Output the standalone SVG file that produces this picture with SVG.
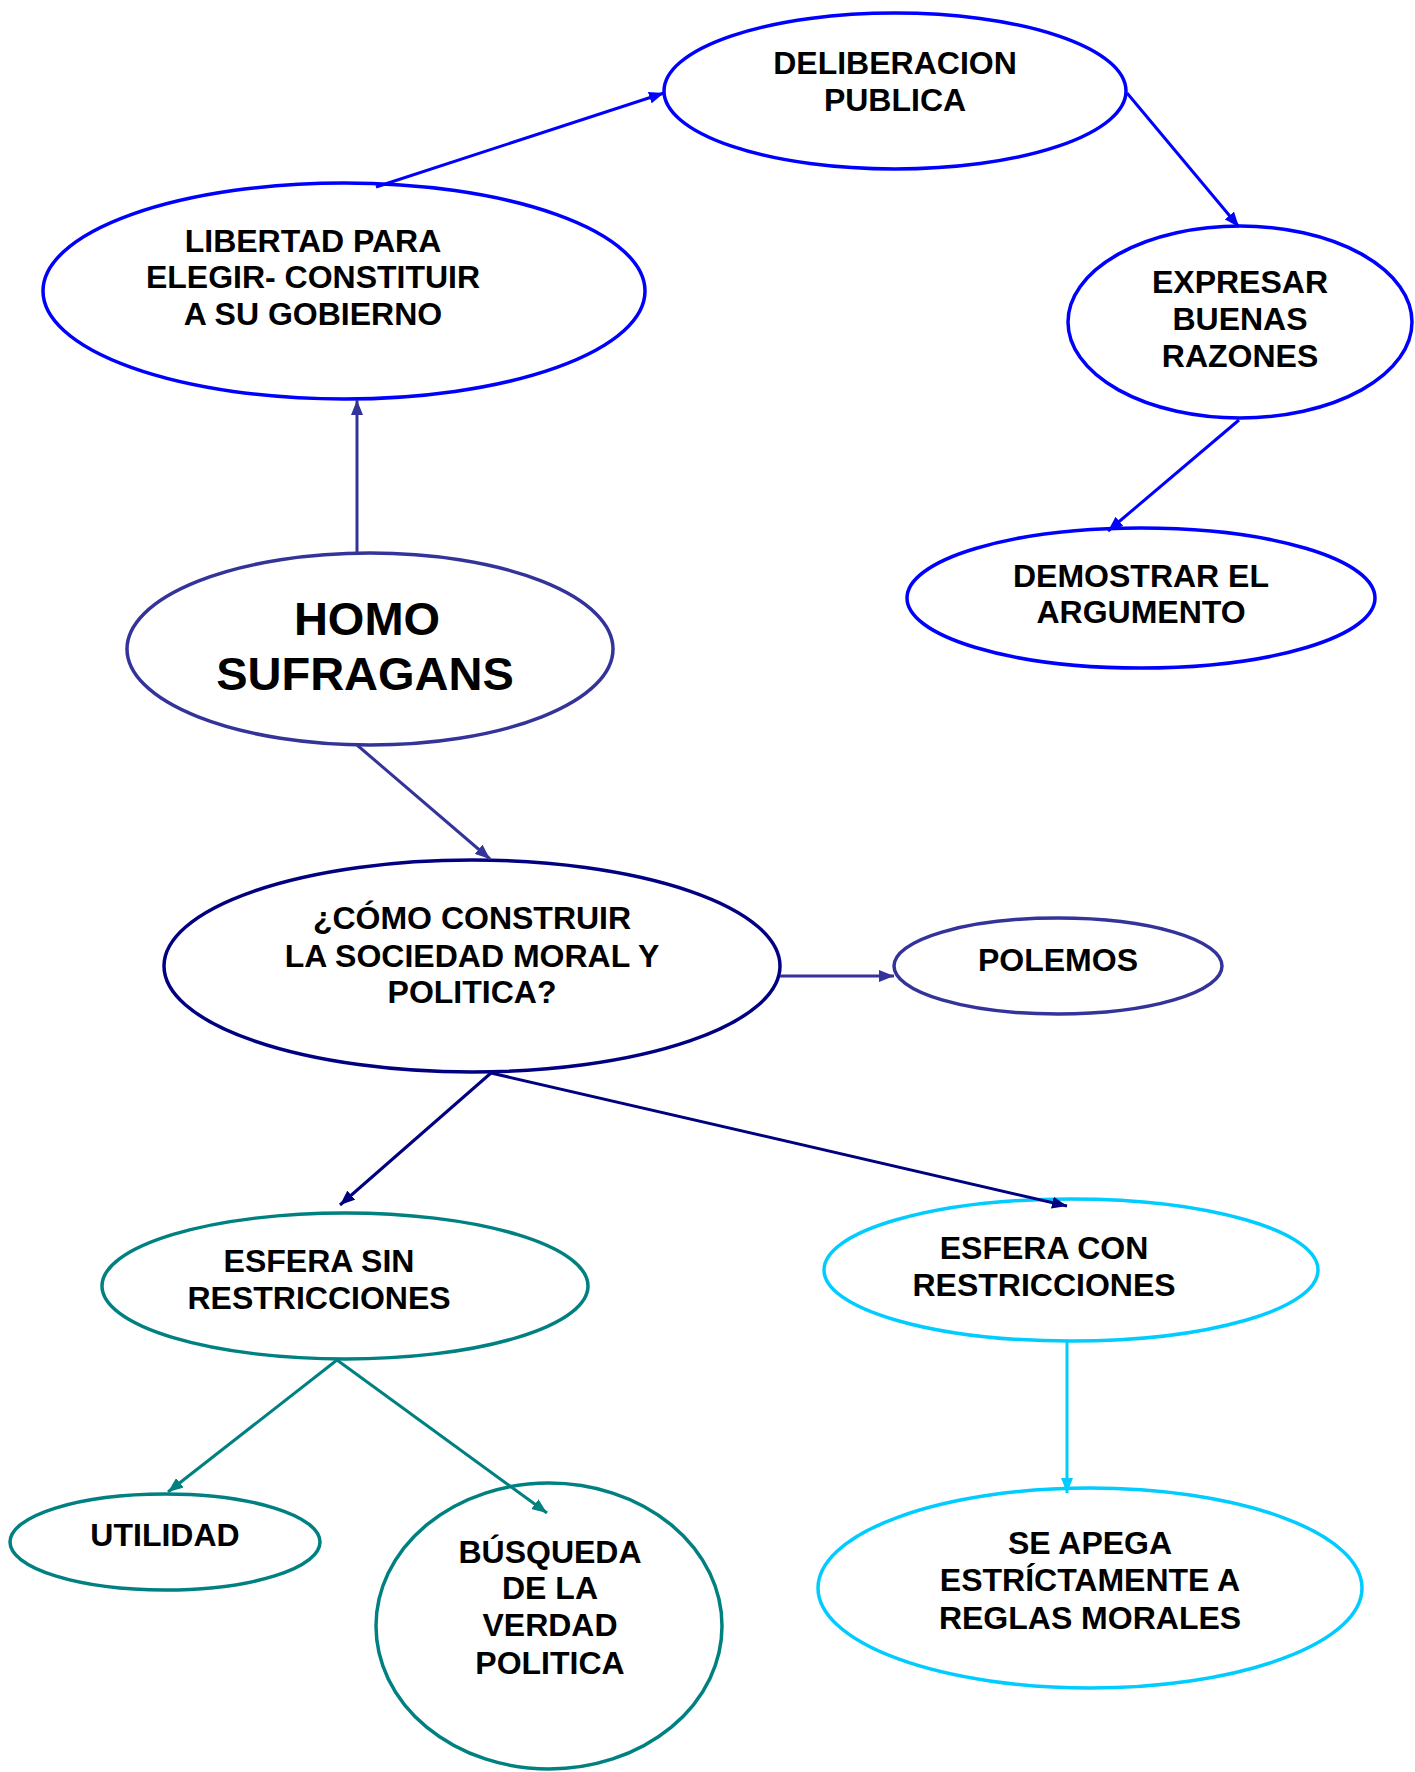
<svg xmlns="http://www.w3.org/2000/svg" width="1415" height="1772" viewBox="0 0 1415 1772">
<style>
.n{fill:#fff;stroke-width:3.5}
.t{font-family:"Liberation Sans",Arial,sans-serif;font-weight:bold;font-size:32px;fill:#000;text-anchor:middle}
.big{font-size:47px}
.c{fill:none;stroke-width:3}
.blue{stroke:#0000FF}
.slate{stroke:#333399}
.navy{stroke:#000080}
.teal{stroke:#008080}
.cyan{stroke:#00CCFF}
</style>
<defs>
<marker id="aBlue" markerUnits="userSpaceOnUse" markerWidth="16" markerHeight="12" refX="15" refY="6" orient="auto"><path d="M0,0 L15,6 L0,12 z" fill="#0000FF"/></marker>
<marker id="aSlate" markerUnits="userSpaceOnUse" markerWidth="16" markerHeight="12" refX="15" refY="6" orient="auto"><path d="M0,0 L15,6 L0,12 z" fill="#333399"/></marker>
<marker id="aNavy" markerUnits="userSpaceOnUse" markerWidth="16" markerHeight="12" refX="15" refY="6" orient="auto"><path d="M0,0 L15,6 L0,12 z" fill="#000080"/></marker>
<marker id="aTeal" markerUnits="userSpaceOnUse" markerWidth="16" markerHeight="12" refX="15" refY="6" orient="auto"><path d="M0,0 L15,6 L0,12 z" fill="#008080"/></marker>
<marker id="aCyan" markerUnits="userSpaceOnUse" markerWidth="16" markerHeight="12" refX="15" refY="6" orient="auto"><path d="M0,0 L15,6 L0,12 z" fill="#00CCFF"/></marker>
</defs>
<rect width="1415" height="1772" fill="#fff"/>

<g id="nodes">
<g id="deliberacion">
<ellipse class="n blue" cx="895" cy="91" rx="231" ry="78"/>
<text class="t" x="895" y="74">DELIBERACION</text>
<text class="t" x="895" y="111">PUBLICA</text>
</g>
<g id="libertad">
<ellipse class="n blue" cx="344" cy="291" rx="301" ry="108"/>
<text class="t" x="313" y="252">LIBERTAD PARA</text>
<text class="t" x="313" y="288">ELEGIR- CONSTITUIR</text>
<text class="t" x="313" y="325">A SU GOBIERNO</text>
</g>
<g id="expresar">
<ellipse class="n blue" cx="1240" cy="322" rx="172" ry="96"/>
<text class="t" x="1240" y="293">EXPRESAR</text>
<text class="t" x="1240" y="330">BUENAS</text>
<text class="t" x="1240" y="367">RAZONES</text>
</g>
<g id="demostrar">
<ellipse class="n blue" cx="1141" cy="598" rx="234" ry="70"/>
<text class="t" x="1141" y="587">DEMOSTRAR EL</text>
<text class="t" x="1141" y="623">ARGUMENTO</text>
</g>
<g id="homo">
<ellipse class="n slate" cx="370" cy="649" rx="243" ry="96"/>
<text class="t big" x="367" y="635">HOMO</text>
<text class="t big" x="365" y="690">SUFRAGANS</text>
</g>
<g id="como">
<ellipse class="n navy" cx="472" cy="966" rx="308" ry="106"/>
<text class="t" x="472" y="929">¿CÓMO CONSTRUIR</text>
<text class="t" x="472" y="967">LA SOCIEDAD MORAL Y</text>
<text class="t" x="472" y="1003">POLITICA?</text>
</g>
<g id="polemos">
<ellipse class="n slate" cx="1058" cy="966" rx="164" ry="48"/>
<text class="t" x="1058" y="971">POLEMOS</text>
</g>
<g id="esfera-sin">
<ellipse class="n teal" cx="345" cy="1286" rx="243" ry="73"/>
<text class="t" x="319" y="1272">ESFERA SIN</text>
<text class="t" x="319" y="1309">RESTRICCIONES</text>
</g>
<g id="esfera-con">
<ellipse class="n cyan" cx="1071" cy="1270" rx="247" ry="71"/>
<text class="t" x="1044" y="1259">ESFERA CON</text>
<text class="t" x="1044" y="1296">RESTRICCIONES</text>
</g>
<g id="utilidad">
<ellipse class="n teal" cx="165" cy="1542" rx="155" ry="48"/>
<text class="t" x="165" y="1546">UTILIDAD</text>
</g>
<g id="busqueda">
<ellipse class="n teal" cx="549" cy="1626" rx="173" ry="143"/>
<text class="t" x="550" y="1563">BÚSQUEDA</text>
<text class="t" x="550" y="1599">DE LA</text>
<text class="t" x="550" y="1636">VERDAD</text>
<text class="t" x="550" y="1674">POLITICA</text>
</g>
<g id="se-apega">
<ellipse class="n cyan" cx="1090" cy="1588" rx="272" ry="100"/>
<text class="t" x="1090" y="1554">SE APEGA</text>
<text class="t" x="1090" y="1591">ESTRÍCTAMENTE A</text>
<text class="t" x="1090" y="1629">REGLAS MORALES</text>
</g>
</g>

<g id="connectors">
<line class="c blue" x1="376" y1="187" x2="664" y2="93" marker-end="url(#aBlue)"/>
<line class="c blue" x1="1127" y1="93" x2="1239" y2="227" marker-end="url(#aBlue)"/>
<line class="c blue" x1="1239" y1="420" x2="1108" y2="531" marker-end="url(#aBlue)"/>
<line class="c slate" x1="357" y1="553" x2="357" y2="400" marker-end="url(#aSlate)"/>
<line class="c slate" x1="357" y1="745" x2="490" y2="859" marker-end="url(#aSlate)"/>
<line class="c slate" x1="780" y1="976" x2="894" y2="976" marker-end="url(#aSlate)"/>
<line class="c navy" x1="491" y1="1073" x2="340" y2="1205" marker-end="url(#aNavy)"/>
<line class="c navy" x1="491" y1="1073" x2="1067" y2="1206" marker-end="url(#aNavy)"/>
<line class="c teal" x1="337" y1="1360" x2="168" y2="1492" marker-end="url(#aTeal)"/>
<line class="c teal" x1="337" y1="1360" x2="547" y2="1513" marker-end="url(#aTeal)"/>
<line class="c cyan" x1="1067" y1="1341" x2="1067" y2="1493" marker-end="url(#aCyan)"/>
</g>
</svg>
